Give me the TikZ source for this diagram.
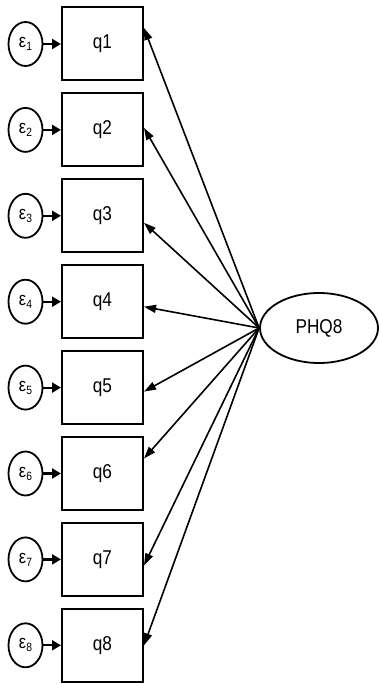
\documentclass[tikz,border=0pt]{standalone}
\usepackage{fontspec}
\setmainfont{Liberation Sans}[FakeStretch=0.86]
\usetikzlibrary{arrows.meta,shapes.geometric}
\begin{document}
\begin{tikzpicture}[x=1pt,y=-1pt,
  obsbox/.style={draw,line width=2pt,minimum width=81pt,minimum height=73pt,inner sep=0pt,font=\fontsize{20}{20}\selectfont},
  errnode/.style={draw,ellipse,line width=1.8pt,minimum width=34pt,minimum height=44pt,inner sep=0pt,font=\fontsize{19}{19}\selectfont},
  latnode/.style={draw,ellipse,line width=1.8pt,minimum width=118pt,minimum height=70pt,inner sep=0pt,font=\fontsize{20}{20}\selectfont},
  errarrow/.style={line width=2.2pt,-{Triangle[length=9pt,width=10pt]}},
  loadarrow/.style={line width=1.6pt,-{Triangle[length=12pt,width=8pt]}}
]
\useasboundingbox (0,0) rectangle (380,684);
\node[latnode] (L) at (319,328) {PHQ8};
\foreach \i/\off in {1/16,2/2,3/-7,4/-5,5/-4,6/15,7/-6,8/0}{
  \pgfmathsetmacro{\yy}{44+85.9*(\i-1)}
  \node[obsbox] (q\i) at (102.5,\yy) {q\i};
  \node[errnode] (e\i) at (25.5,\yy) {ε\raisebox{-3pt}{\fontsize{12}{12}\selectfont\i}};
  \draw[errarrow] (e\i.east) -- (q\i.west);
  \draw[loadarrow] (L.west) -- ([yshift=\off pt]q\i.east);
}
\end{tikzpicture}
\end{document}
